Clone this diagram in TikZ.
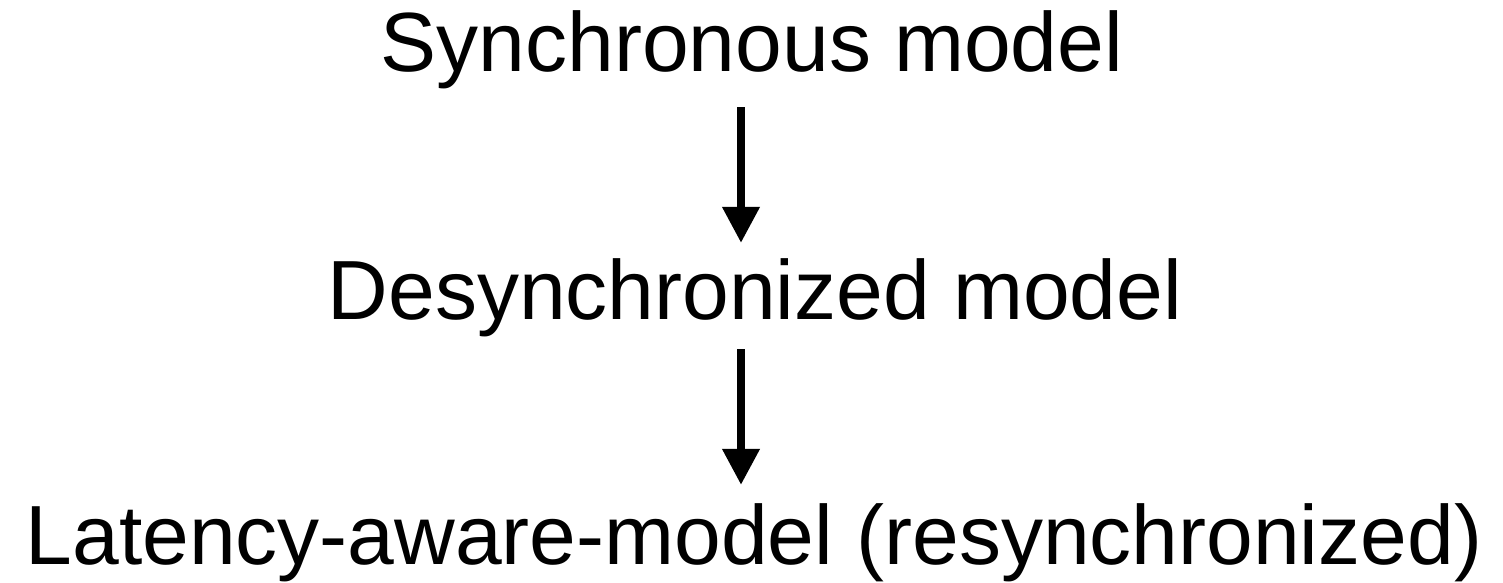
\documentclass[tikz,border=0pt]{standalone}
\usepackage{fontspec}
\setmainfont{Liberation Sans}
\usetikzlibrary{arrows.meta}
\begin{document}
\begin{tikzpicture}[x=1pt,y=1pt,
  label/.style={anchor=base,inner sep=0pt,text height=60pt,text depth=18pt,
    font=\fontsize{84}{100}\selectfont},
  flow/.style={line width=7.5pt,-{Triangle[length=36pt,width=36pt]}}]
  \useasboundingbox (0,0) rectangle (1503,582);
  \coordinate (ax) at (741,0);
  \node[label] (sync)    at (752,510) {Synchronous model};
  \node[label] (desync)  at (755,263) {Desynchronized model};
  \node[label] (latency) at (754,18)  {Latency-aware-model (resynchronized)};
  \draw[flow,shorten <=17pt,shorten >=16pt] (sync.south -| ax) -- (desync.north -| ax);
  \draw[flow,shorten <=12pt,shorten >=19pt] (desync.south -| ax) -- (latency.north -| ax);
\end{tikzpicture}
\end{document}
